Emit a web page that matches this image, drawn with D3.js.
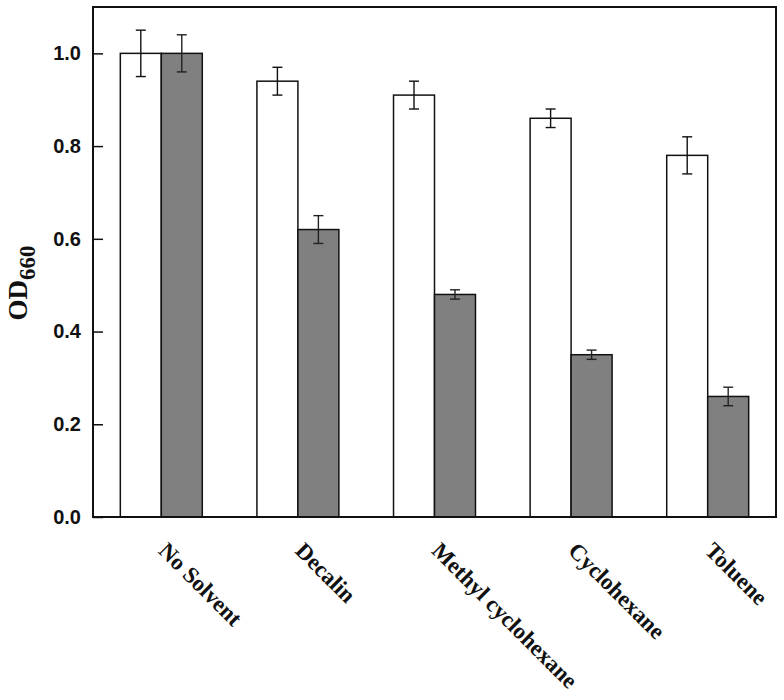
<!DOCTYPE html>
<html>
<head>
<meta charset="utf-8">
<script src="https://cdn.jsdelivr.net/npm/d3@7"></script>
<style>
  body { margin: 0; background: #fff; }
</style>
</head>
<body>
<div id="chart"></div>
<script>
const categories = ["No Solvent", "Decalin", "Methyl cyclohexane", "Cyclohexane", "Toluene"];
const seriesA = [1.00, 0.94, 0.91, 0.86, 0.78];   // white bars
const errorsA = [0.05, 0.03, 0.03, 0.02, 0.04];
const seriesB = [1.00, 0.62, 0.48, 0.35, 0.26];   // grey bars
const errorsB = [0.04, 0.03, 0.01, 0.01, 0.02];
const yTicks = [0.0, 0.2, 0.4, 0.6, 0.8, 1.0];

const width = 784, height = 700;
const plotLeft = 93, plotRight = 776, plotTop = 7, plotBottom = 517;

const svg = d3.select("#chart").append("svg")
    .attr("width", width)
    .attr("height", height);

const x = d3.scaleBand()
    .domain(categories)
    .range([plotLeft, plotRight])
    .paddingInner(0.4)
    .paddingOuter(0.2);

const y = d3.scaleLinear()
    .domain([0, 1.1])
    .range([plotBottom, plotTop]);

const half = x.bandwidth() / 2;

const groups = categories.map((c, i) => ({
    c,
    bars: [
        { x: x(c), v: seriesA[i], e: errorsA[i], fill: "#ffffff", ec: "#111" },
        { x: x(c) + half, v: seriesB[i], e: errorsB[i], fill: "#808080", ec: "#222" }
    ]
}));

const bars = groups.flatMap(g => g.bars);

svg.append("g")
  .selectAll("rect")
  .data(bars)
  .enter().append("rect")
    .attr("x", d => d.x)
    .attr("y", d => y(d.v))
    .attr("width", half)
    .attr("height", d => y(0) - y(d.v))
    .attr("fill", d => d.fill)
    .attr("stroke", "#111")
    .attr("stroke-width", 1.5);

// error bars
const eb = svg.append("g");
bars.forEach(d => {
    const cx = d.x + half / 2;
    eb.append("line")
        .attr("x1", cx).attr("x2", cx)
        .attr("y1", y(d.v + d.e)).attr("y2", y(d.v - d.e))
        .attr("stroke", d.ec).attr("stroke-width", 1.4);
    [d.v + d.e, d.v - d.e].forEach(v => {
        eb.append("line")
            .attr("x1", cx - 5).attr("x2", cx + 5)
            .attr("y1", y(v)).attr("y2", y(v))
            .attr("stroke", d.ec).attr("stroke-width", 1.4);
    });
});

// frame
svg.append("rect")
    .attr("x", plotLeft).attr("y", plotTop)
    .attr("width", plotRight - plotLeft).attr("height", plotBottom - plotTop)
    .attr("fill", "none")
    .attr("stroke", "#111")
    .attr("stroke-width", 2);

// y axis with inward ticks
const yAxis = svg.append("g")
    .attr("transform", `translate(${plotLeft},0)`)
    .call(d3.axisLeft(y)
        .tickValues(yTicks)
        .tickFormat(d3.format(".1f"))
        .tickSizeInner(-10)
        .tickSizeOuter(0)
        .tickPadding(12));
yAxis.select(".domain").remove();
yAxis.selectAll(".tick line").attr("stroke", "#111").attr("stroke-width", 1.5);
yAxis.selectAll(".tick text")
    .attr("fill", "#111")
    .attr("font-family", "Liberation Sans, Arial, sans-serif")
    .attr("font-weight", "bold")
    .attr("font-size", 20);

// x labels, rotated 45deg, starting under each group centre
svg.append("g")
  .selectAll("text")
  .data(categories)
  .enter().append("text")
    .attr("transform", d => `translate(${x(d) + half - 4},552) rotate(45)`)
    .attr("font-family", "Liberation Serif, Times New Roman, serif")
    .attr("font-weight", "bold")
    .attr("font-size", 23)
    .attr("fill", "#111")
    .text(d => d);

// y title
const yt = svg.append("text")
    .attr("transform", "translate(27,283) rotate(-90)")
    .attr("text-anchor", "middle")
    .attr("font-family", "Liberation Serif, Times New Roman, serif")
    .attr("font-weight", "bold")
    .attr("font-size", 27)
    .attr("fill", "#111");
yt.append("tspan").text("OD");
yt.append("tspan").attr("font-size", 23).attr("dy", 8).text("660");
</script>
</body>
</html>
